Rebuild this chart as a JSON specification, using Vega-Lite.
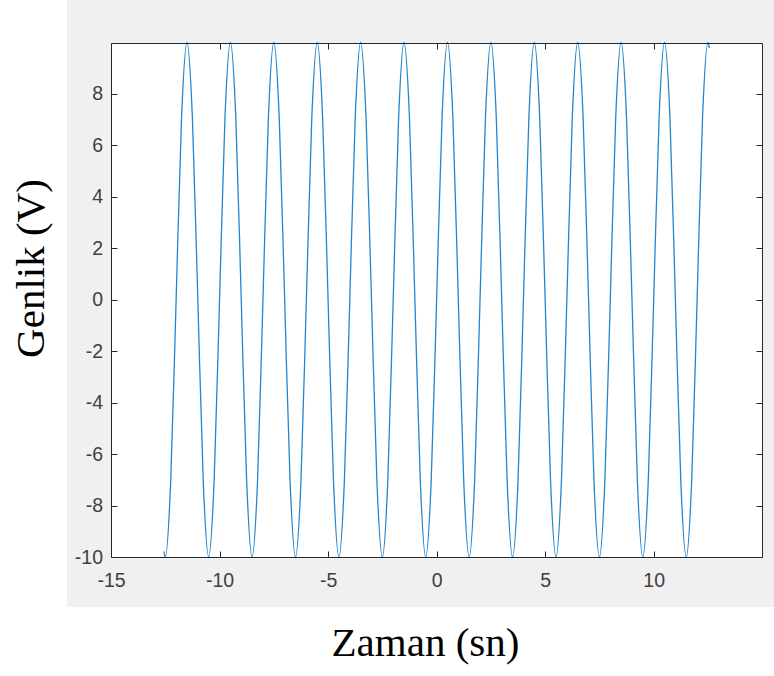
{
  "$schema": "https://vega.github.io/schema/vega-lite/v6.json",
  "width": 651,
  "height": 514,
  "autosize": {"type": "none"},
  "padding": {"left": 111, "top": 43, "right": 12, "bottom": 119},
  "background": "white",
  "config": {
    "view": {"stroke": null},
    "axis": {
      "domainColor": "#262626",
      "domainWidth": 1,
      "tickColor": "#262626",
      "tickWidth": 1,
      "tickSize": -6,
      "labelFont": "Liberation Sans",
      "labelFontSize": 19.5,
      "labelColor": "#404040",
      "labelFlush": false,
      "labelOverlap": false,
      "labelExpr": "toString(datum.value)",
      "grid": false,
      "titleFont": "Liberation Serif",
      "titleFontWeight": "normal",
      "titleColor": "#000000",
      "titleFontSize": 41
    }
  },
  "datasets": {
    "sig": [
      {"t": -12.566, "v": -9.78},
      {"t": -12.5, "v": -10}, {"t": -12.25, "v": -7.07}, {"t": -12, "v": 0}, {"t": -11.75, "v": 7.07}, {"t": -11.5, "v": 10}, {"t": -11.25, "v": 7.07}, {"t": -11, "v": 0}, {"t": -10.75, "v": -7.07},
      {"t": -10.5, "v": -10}, {"t": -10.25, "v": -7.07}, {"t": -10, "v": 0}, {"t": -9.75, "v": 7.07}, {"t": -9.5, "v": 10}, {"t": -9.25, "v": 7.07}, {"t": -9, "v": 0}, {"t": -8.75, "v": -7.07},
      {"t": -8.5, "v": -10}, {"t": -8.25, "v": -7.07}, {"t": -8, "v": 0}, {"t": -7.75, "v": 7.07}, {"t": -7.5, "v": 10}, {"t": -7.25, "v": 7.07}, {"t": -7, "v": 0}, {"t": -6.75, "v": -7.07},
      {"t": -6.5, "v": -10}, {"t": -6.25, "v": -7.07}, {"t": -6, "v": 0}, {"t": -5.75, "v": 7.07}, {"t": -5.5, "v": 10}, {"t": -5.25, "v": 7.07}, {"t": -5, "v": 0}, {"t": -4.75, "v": -7.07},
      {"t": -4.5, "v": -10}, {"t": -4.25, "v": -7.07}, {"t": -4, "v": 0}, {"t": -3.75, "v": 7.07}, {"t": -3.5, "v": 10}, {"t": -3.25, "v": 7.07}, {"t": -3, "v": 0}, {"t": -2.75, "v": -7.07},
      {"t": -2.5, "v": -10}, {"t": -2.25, "v": -7.07}, {"t": -2, "v": 0}, {"t": -1.75, "v": 7.07}, {"t": -1.5, "v": 10}, {"t": -1.25, "v": 7.07}, {"t": -1, "v": 0}, {"t": -0.75, "v": -7.07},
      {"t": -0.5, "v": -10}, {"t": -0.25, "v": -7.07}, {"t": 0, "v": 0}, {"t": 0.25, "v": 7.07}, {"t": 0.5, "v": 10}, {"t": 0.75, "v": 7.07}, {"t": 1, "v": 0}, {"t": 1.25, "v": -7.07},
      {"t": 1.5, "v": -10}, {"t": 1.75, "v": -7.07}, {"t": 2, "v": 0}, {"t": 2.25, "v": 7.07}, {"t": 2.5, "v": 10}, {"t": 2.75, "v": 7.07}, {"t": 3, "v": 0}, {"t": 3.25, "v": -7.07},
      {"t": 3.5, "v": -10}, {"t": 3.75, "v": -7.07}, {"t": 4, "v": 0}, {"t": 4.25, "v": 7.07}, {"t": 4.5, "v": 10}, {"t": 4.75, "v": 7.07}, {"t": 5, "v": 0}, {"t": 5.25, "v": -7.07},
      {"t": 5.5, "v": -10}, {"t": 5.75, "v": -7.07}, {"t": 6, "v": 0}, {"t": 6.25, "v": 7.07}, {"t": 6.5, "v": 10}, {"t": 6.75, "v": 7.07}, {"t": 7, "v": 0}, {"t": 7.25, "v": -7.07},
      {"t": 7.5, "v": -10}, {"t": 7.75, "v": -7.07}, {"t": 8, "v": 0}, {"t": 8.25, "v": 7.07}, {"t": 8.5, "v": 10}, {"t": 8.75, "v": 7.07}, {"t": 9, "v": 0}, {"t": 9.25, "v": -7.07},
      {"t": 9.5, "v": -10}, {"t": 9.75, "v": -7.07}, {"t": 10, "v": 0}, {"t": 10.25, "v": 7.07}, {"t": 10.5, "v": 10}, {"t": 10.75, "v": 7.07}, {"t": 11, "v": 0}, {"t": 11.25, "v": -7.07},
      {"t": 11.5, "v": -10}, {"t": 11.75, "v": -7.07}, {"t": 12, "v": 0}, {"t": 12.25, "v": 7.07}, {"t": 12.5, "v": 10},
      {"t": 12.566, "v": 9.78}
    ]
  },
  "resolve": {"axis": {"x": "independent", "y": "independent"}},
  "layer": [
    {
      "data": {"values": [{}]},
      "mark": {"type": "rect", "fill": "#f0f0f0", "clip": false},
      "encoding": {
        "x": {"datum": -17.03, "type": "quantitative", "scale": {"domain": [-15, 14.99], "nice": false, "zero": false}, "axis": null},
        "x2": {"datum": 16},
        "y": {"datum": 12.5, "type": "quantitative", "scale": {"domain": [-10, 9.98], "nice": false, "zero": false}, "axis": null},
        "y2": {"datum": -11.944}
      }
    },
    {
      "data": {"values": [{}]},
      "mark": {"type": "rect", "fill": "white", "clip": false},
      "encoding": {
        "x": {"datum": -15, "type": "quantitative", "scale": {"domain": [-15, 14.99], "nice": false, "zero": false},
          "axis": {"orient": "top", "zindex": 2, "values": [-15, -10, -5, 0, 5, 10], "labels": false, "title": null}},
        "x2": {"datum": 14.99},
        "y": {"datum": -10, "type": "quantitative", "scale": {"domain": [-10, 9.98], "nice": false, "zero": false},
          "axis": {"orient": "right", "zindex": 2, "values": [-10, -8, -6, -4, -2, 0, 2, 4, 6, 8], "labels": false, "title": null}},
        "y2": {"datum": 9.98}
      }
    },
    {
      "data": {"name": "sig"},
      "mark": {"type": "line", "color": "#2585cc", "strokeWidth": 1.3, "interpolate": "monotone"},
      "encoding": {
        "x": {"field": "t", "type": "quantitative", "scale": {"domain": [-15, 14.99], "nice": false, "zero": false},
          "axis": {"orient": "bottom", "zindex": 2, "values": [-15, -10, -5, 0, 5, 10], "labelPadding": 20,
            "title": "Zaman (sn)", "titleX": 314, "titleY": 98, "titleAlign": "center", "titleBaseline": "alphabetic"}},
        "y": {"field": "v", "type": "quantitative", "scale": {"domain": [-10, 9.98], "nice": false, "zero": false},
          "axis": {"orient": "left", "zindex": 2, "values": [-10, -8, -6, -4, -2, 0, 2, 4, 6, 8], "labelPadding": 14.5,
            "title": "Genlik (V)", "titleX": -68, "titleY": 225, "titleAngle": -90, "titleAlign": "center", "titleBaseline": "alphabetic"}}
      }
    }
  ]
}
